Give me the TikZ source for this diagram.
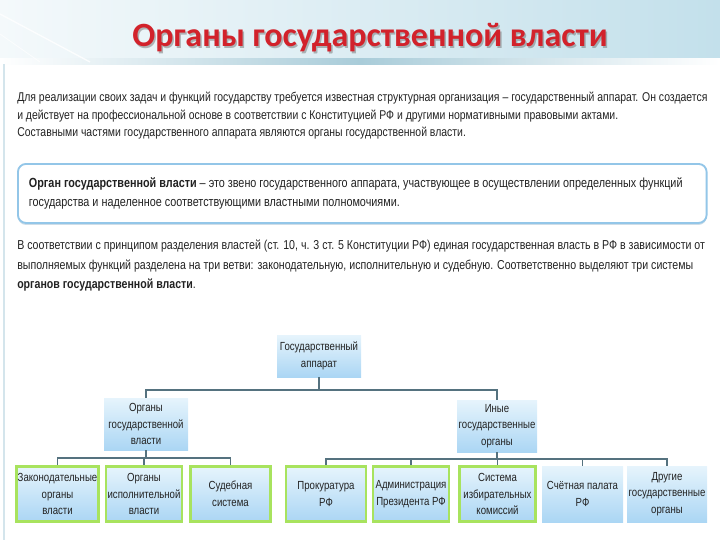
\documentclass[tikz,border=0pt]{standalone}
\usepackage{fontspec}
\setmainfont{Liberation Sans}[FakeStretch=0.82]
\newfontfamily\titlefont{Carlito}
\usetikzlibrary{positioning, arrows.meta, shadows}

\definecolor{bandlight}{HTML}{F4F9FB}
\definecolor{banddark}{HTML}{C3E0EB}
\definecolor{bandedge}{HTML}{A9CCD9}
\definecolor{titlered}{HTML}{D2222B}
\definecolor{boxtop}{HTML}{E6F4FC}
\definecolor{boxbottom}{HTML}{ABD6F4}
\definecolor{linkgray}{HTML}{55727F}
\definecolor{glow}{HTML}{A8E35E}
\definecolor{defborder}{HTML}{93C6E8}
\definecolor{txt}{HTML}{222222}

\begin{document}
\begin{tikzpicture}[
    x=0.75pt, y=-0.75pt,
    titletext/.style={
        font=\titlefont\bfseries\fontsize{25.5}{30}\selectfont,
        inner sep=0pt
    },
    para/.style={
        anchor=north west,
        align=flush left,
        inner sep=0pt,
        text=txt,
        font=\fontsize{9.55}{13.2}\selectfont
    },
    defbox/.style={
        rectangle,
        rounded corners=6pt,
        draw=defborder,
        line width=1.4pt,
        fill=white,
        drop shadow={shadow xshift=0pt, shadow yshift=-1.5pt, fill=defborder!80!black, opacity=0.35},
        anchor=north west,
        align=flush left,
        text=txt,
        inner xsep=8.25pt,
        text width=500pt,
        minimum height=44.25pt,
        font=\fontsize{9.9}{14.2}\selectfont
    },
    orgbox/.style={
        rectangle,
        top color=boxtop,
        bottom color=boxbottom,
        align=center,
        text=txt,
        inner sep=1pt,
        font=\fontsize{8.8}{12.6}\selectfont
    },
    branchbox/.style={
        orgbox,
        draw=glow,
        line width=2.2pt,
        minimum height=41pt
    },
    otherbox/.style={
        orgbox,
        minimum height=42pt
    },
    link/.style={
        draw=linkgray,
        line width=1.2pt
    }
]
\useasboundingbox (0,0) rectangle (720,540);

% Шапка слайда
\fill[left color=bandlight, right color=banddark] (0,0) rectangle (720,62);
\fill[left color=white, right color=white, middle color=bandedge] (0,58) rectangle (720,64);
\draw[white, line width=1pt, opacity=0.8] (0,14) -- (90,62);
\draw[white, line width=0.6pt, opacity=0.7] (0,34) -- (40,62);
\draw[bandedge!50, line width=1pt] (4,64) -- (4,540);

\node[titletext, text=black!55, opacity=0.5] at (371.5,39.5) {Органы государственной власти};
\node[titletext, text=titlered] (title) at (370,38) {Органы государственной власти};

% Текст
\node[para] (intro) at (17,92) {Для реализации своих задач и функций государству требуется известная структурная организация -- государственный аппарат. Он создается\\
и действует на профессиональной основе в соответствии с Конституцией РФ и другими нормативными правовыми актами.\\
Составными частями государственного аппарата являются органы государственной власти.};

\node[defbox] (definition) at (17,163) {\textbf{Орган государственной власти} -- это звено государственного аппарата, участвующее в осуществлении определенных функций\\
государства и наделенное соответствующими властными полномочиями.};

\node[para, font=\fontsize{9.7}{14.6}\selectfont] (branches) at (17,240) {В соответствии с принципом разделения властей (ст. 10, ч. 3 ст. 5 Конституции РФ) единая государственная власть в РФ в зависимости от\\
выполняемых функций разделена на три ветви: законодательную, исполнительную и судебную. Соответственно выделяют три системы\\
\textbf{органов государственной власти}.};

% Схема
\node[orgbox, minimum width=63pt, minimum height=31.5pt] (apparat) at (319,356) {Государственный\\аппарат};
\node[orgbox, minimum width=63pt, minimum height=39pt] (ogv) at (146,424) {Органы\\государственной\\власти};
\node[orgbox, minimum width=60pt, minimum height=39pt] (inye) at (497,426) {Иные\\государственные\\органы};

\node[branchbox, minimum width=62pt] (zak) at (57.5,494) {Законодательные\\органы\\власти};
\node[branchbox, minimum width=57pt] (isp) at (144,494) {Органы\\исполнительной\\власти};
\node[branchbox, minimum width=60.5pt] (sud) at (230.5,494) {Судебная\\система};
\node[branchbox, minimum width=60pt] (prok) at (326,494) {Прокуратура\\РФ};
\node[branchbox, minimum width=57pt] (adm) at (411,494) {Администрация\\Президента РФ};
\node[branchbox, minimum width=57.5pt] (izb) at (497.5,494) {Система\\избирательных\\комиссий};
\node[otherbox, minimum width=60.75pt] (sch) at (582.5,494) {Счётная палата\\РФ};
\node[otherbox, minimum width=60pt] (dr) at (667,494) {Другие\\государственные\\органы};

\draw[link] (apparat.south) -- ++(0,13) -| (ogv.north);
\draw[link] (apparat.south) -- ++(0,13) -| (inye.north);

\foreach \child in {zak, isp, sud}
    \draw[link] (ogv.south) -- ++(0,8) -| (\child.north);
\foreach \child in {prok, adm, izb, sch, dr}
    \draw[link] (inye.south) -- ++(0,7) -| (\child.north);

\end{tikzpicture}
\end{document}
